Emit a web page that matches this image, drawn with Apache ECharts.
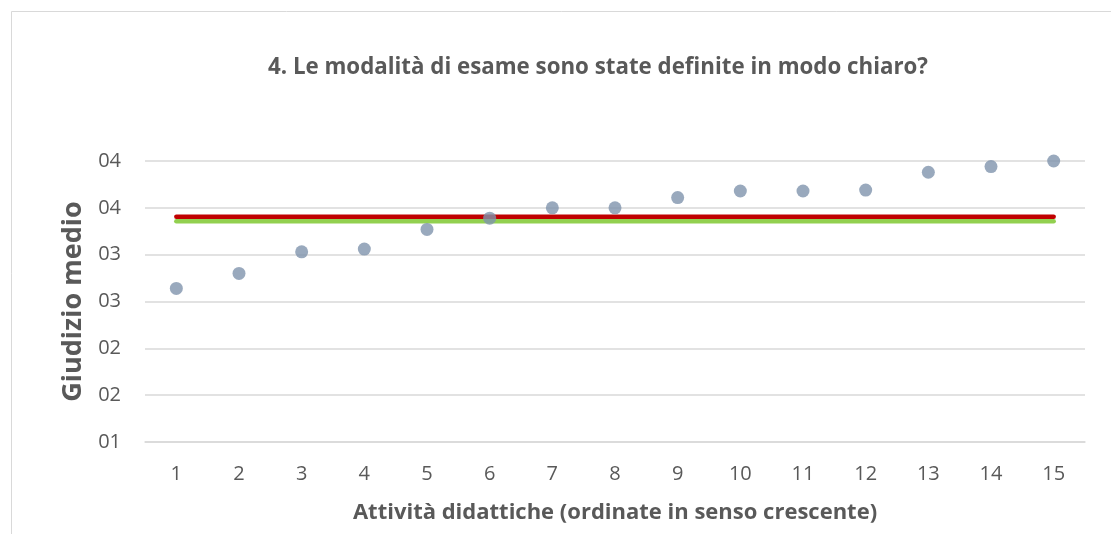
<!DOCTYPE html>
<html>
<head>
<meta charset="utf-8">
<script src="https://cdn.jsdelivr.net/npm/echarts@6/dist/echarts.min.js"></script>
<style>
html,body{margin:0;padding:0;background:#fff;}
#chart{width:1111px;height:534px;}
</style>
</head>
<body>
<div id="chart"></div>
<script>
var categories = ['1','2','3','4','5','6','7','8','9','10','11','12','13','14','15'];
var giudizi = [2.64, 2.80, 3.03, 3.06, 3.27, 3.39, 3.50, 3.50, 3.61, 3.68, 3.68, 3.69, 3.88, 3.94, 4.00];
var mediaRossa = 3.406;
var mediaVerde = 3.356;
var yTickLabels = ['01','02','02','03','03','04','04'];
var yMin = 1, yMax = 4, yStep = 0.5;

var FONT = '"Open Sans", sans-serif';
var TXT = '#595959';

var chart = echarts.init(document.getElementById('chart'));
chart.setOption({
  backgroundColor: '#ffffff',
  animation: false,
  graphic: [{
    type: 'rect',
    shape: {x: 11.5, y: 11.5, width: 1300, height: 700},
    style: {fill: 'none', stroke: '#d9d9d9', lineWidth: 1},
    silent: true, z: -10
  }],
  title: {
    text: '4. Le modalità di esame sono state definite in modo chiaro?',
    left: 268,
    top: 55,
    padding: 0,
    textStyle: {fontFamily: FONT, fontSize: 22.3, fontWeight: 'bold', color: TXT, lineHeight: 26}
  },
  grid: {left: 145, right: 26, top: 161, bottom: 92, containLabel: false},
  xAxis: {
    type: 'category',
    data: categories,
    boundaryGap: true,
    name: 'Attività didattiche (ordinate in senso crescente)',
    nameLocation: 'middle',
    nameGap: 60,
    nameTextStyle: {fontFamily: FONT, fontSize: 22, fontWeight: 'bold', color: TXT},
    axisLine: {show: true, lineStyle: {color: '#d9d9d9', width: 1.5}},
    axisTick: {show: false},
    axisLabel: {fontFamily: FONT, fontSize: 20, color: TXT, margin: 22}
  },
  yAxis: {
    type: 'value',
    min: yMin, max: yMax, interval: yStep,
    name: 'Giudizio medio',
    nameLocation: 'middle',
    nameGap: 56,
    nameTextStyle: {fontFamily: FONT, fontSize: 27, fontWeight: 'bold', color: TXT},
    axisLine: {show: false},
    axisTick: {show: false},
    splitLine: {show: true, lineStyle: {color: '#d9d9d9', width: 1.5}},
    axisLabel: {
      fontFamily: FONT, fontSize: 20, color: TXT, margin: 24,
      formatter: function (v) { return yTickLabels[Math.round((v - yMin) / yStep)]; }
    }
  },
  series: [
    {
      type: 'line', name: 'verde',
      data: [[categories[0], mediaVerde], [categories[categories.length - 1], mediaVerde]],
      symbol: 'none',
      lineStyle: {color: '#92d050', width: 4.5, cap: 'round'},
      z: 2
    },
    {
      type: 'line', name: 'rossa',
      data: [[categories[0], mediaRossa], [categories[categories.length - 1], mediaRossa]],
      symbol: 'none',
      lineStyle: {color: '#c00000', width: 4.5, cap: 'round'},
      z: 3
    },
    {
      type: 'scatter', name: 'giudizio',
      data: giudizi,
      symbol: 'circle',
      symbolSize: 13,
      itemStyle: {color: '#7f93ad'},
      z: 5
    }
  ]
});
</script>
</body>
</html>
